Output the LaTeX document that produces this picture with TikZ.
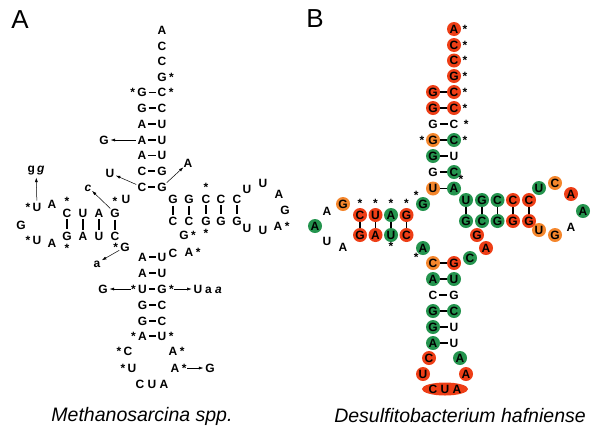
\documentclass[tikz,border=0pt]{standalone}
\usepackage{fontspec}
\setmainfont{Liberation Sans}
\usetikzlibrary{arrows.meta,positioning,shapes.geometric}
\definecolor{rnred}{RGB}{238,62,22}
\definecolor{rnorange}{RGB}{244,134,44}
\definecolor{rngreen}{RGB}{36,148,78}
\newcommand{\rnfont}{\fontsize{12}{14}\selectfont\bfseries}
\tikzset{
  rnbase/.style={circle, inner sep=0pt, minimum size=10pt, font=\rnfont, text height=8.6pt, text depth=0pt},
  rnred/.style={rnbase, fill=rnred, minimum size=14pt},
  rnorange/.style={rnbase, fill=rnorange, minimum size=14pt},
  rngreen/.style={rnbase, fill=rngreen, minimum size=14pt},
  rnstar/.style={font=\rnfont, inner sep=0.3pt, text height=8.6pt, text depth=0pt},
  rnstarv/.style={font=\rnfont, inner sep=0.3pt, text height=8.6pt, text depth=-4.6pt},
  rnbond/.style={line width=1.1pt},
  rnarrow/.style={-{Latex[length=4.5pt,width=3pt]}, line width=0.5pt},
  rnpanel/.style={font=\fontsize{26}{28}\selectfont},
  rncaption/.style={font=\fontsize{19.5}{21}\selectfont\itshape}
}

\begin{document}
\begin{tikzpicture}[x=1pt,y=-1pt]
  \useasboundingbox (0,0) rectangle (601,437);

  \node[rnpanel] (labA) at (20,20) {A};
  \node[rnpanel] (labB) at (315,19) {B};

  % ---- A: Methanosarcina ----
  % acceptor stem
  \node[rnbase] (mA1) at (162,30) {A};
  \node[rnbase] (mA2) at (162,46) {C};
  \node[rnbase] (mA3) at (162,61) {C};
  \node[rnbase, label={[rnstar]right:*}] (mA4) at (162,77) {G};
  \node[rnbase, label={[rnstar]left:*}] (mA5l) at (142,92.5) {G};
  \node[rnbase, label={[rnstar]right:*}] (mA5r) at (162,92.5) {C};
  \node[rnbase] (mA6l) at (142,108) {G};
  \node[rnbase] (mA6r) at (162,108) {C};
  \node[rnbase] (mA7l) at (142,124) {A};
  \node[rnbase] (mA7r) at (162,124) {U};
  \node[rnbase] (mA8l) at (142,140) {A};
  \node[rnbase] (mA8r) at (162,140) {U};
  \node[rnbase] (mA9l) at (142,155.5) {A};
  \node[rnbase] (mA9r) at (162,155.5) {U};
  \node[rnbase] (mA10l) at (142,171) {C};
  \node[rnbase] (mA10r) at (162,171) {G};
  \node[rnbase] (mA11l) at (142,187) {C};
  \node[rnbase] (mA11r) at (162,187) {G};
  \foreach \i in {5,...,11}
    \draw[rnbond] (mA\i l) -- (mA\i r);
  \node[rnbase] (mG8) at (104,140) {G};
  \node[rnbase] (mU10) at (110,173) {U};
  \node[rnbase] (mA10x) at (188,163) {A};
  \draw[rnarrow] (mA8l) -- (mG8);
  \draw[rnarrow] (mA11l) -- (mU10);
  \draw[rnarrow] (mA11r) -- (mA10x);

  % D arm
  \node[rnbase, label={[rnstarv,label distance=0.5pt]above:*}] (mD1t) at (67,213) {C};
  \node[rnbase] (mD2t) at (83,213) {U};
  \node[rnbase] (mD3t) at (99,213) {A};
  \node[rnbase, label={[rnstarv,label distance=0.5pt]above:*}] (mD4t) at (115,213) {G};
  \node[rnbase, label={[rnstarv,label distance=1pt]below:*}] (mD1b) at (67,236) {G};
  \node[rnbase] (mD2b) at (83,236) {A};
  \node[rnbase] (mD3b) at (99,236) {U};
  \node[rnbase] (mD4b) at (115,236) {C};
  \foreach \i in {1,...,4}
    \draw[rnbond] (mD\i t) -- (mD\i b);
  \node[rnbase, label={[rnstar]left:*}] (mE1) at (37,207) {U};
  \node[rnbase] (mE2) at (52,204) {A};
  \node[rnbase] (mE3) at (21,225) {G};
  \node[rnbase, label={[rnstar]left:*}] (mE4) at (37,240) {U};
  \node[rnbase] (mE5) at (52,243) {A};
  \node[rnbase] (mgg) at (36,168) {g\,\textit{g}};
  \draw[rnarrow] (mE1) -- (mgg);
  \node[rnbase] (mU11) at (126,199) {U};
  \node[rnbase] (mc) at (88,187) {\textit{c}};
  \draw[rnarrow] (mD4t) -- (mc);
  \node[rnbase, label={[rnstar]left:*}] (mG12) at (125,247) {G};
  \node[rnbase] (ma) at (97,263) {a};
  \draw[rnarrow] (mG12) -- (ma);

  % T arm
  \node[rnbase] (mT1t) at (173,199) {G};
  \node[rnbase] (mT2t) at (189,199) {G};
  \node[rnbase, label={[rnstarv,label distance=0.5pt]above:*}] (mT3t) at (206,199) {C};
  \node[rnbase] (mT4t) at (221,199) {C};
  \node[rnbase] (mT5t) at (237,199) {C};
  \node[rnbase] (mT1b) at (173,221) {C};
  \node[rnbase] (mT2b) at (189,221) {C};
  \node[rnbase, label={[rnstarv,label distance=1pt]below:*}] (mT3b) at (206,221) {G};
  \node[rnbase] (mT4b) at (221,221) {G};
  \node[rnbase] (mT5b) at (237,221) {G};
  \foreach \i in {1,...,5}
    \draw[rnbond] (mT\i t) -- (mT\i b);
  \node[rnbase] (mL1) at (247,189) {U};
  \node[rnbase] (mL2) at (263,183) {U};
  \node[rnbase] (mL3) at (279,194) {A};
  \node[rnbase] (mL4) at (285,210) {G};
  \node[rnbase, label={[rnstar]right:*}] (mL5) at (278,226) {A};
  \node[rnbase] (mL6) at (263,230) {U};
  \node[rnbase] (mL7) at (247,228) {U};
  \node[rnbase, label={[rnstar]right:*}] (mV1) at (184,235) {G};
  \node[rnbase] (mV2) at (173,253) {C};
  \node[rnbase, label={[rnstar]right:*}] (mV3) at (189,252) {A};

  % anticodon arm
  \node[rnbase] (mC1l) at (142.5,257) {A};
  \node[rnbase] (mC1r) at (162,257) {U};
  \node[rnbase] (mC2l) at (142.5,273) {A};
  \node[rnbase] (mC2r) at (162,273) {U};
  \node[rnbase, label={[rnstar,name=mS3l]left:*}] (mC3l) at (142.5,289) {U};
  \node[rnbase, label={[rnstar,name=mS3r]right:*}] (mC3r) at (162,289) {G};
  \node[rnbase] (mC4l) at (142.5,305) {G};
  \node[rnbase] (mC4r) at (162,305) {C};
  \node[rnbase] (mC5l) at (142.5,321) {G};
  \node[rnbase] (mC5r) at (162,321) {C};
  \node[rnbase, label={[rnstar]left:*}] (mC6l) at (142.5,336) {A};
  \node[rnbase, label={[rnstar]right:*}] (mC6r) at (162,336) {U};
  \foreach \i in {1,...,6}
    \draw[rnbond] (mC\i l) -- (mC\i r);
  \node[rnbase, label={[rnstar]left:*}] (mK1) at (128,351) {C};
  \node[rnbase, label={[rnstar]right:*}] (mK2) at (173,351) {A};
  \node[rnbase, label={[rnstar]left:*}] (mK3) at (132,368) {U};
  \node[rnbase, label={[rnstar,name=mS4]right:*}] (mK4) at (175,368) {A};
  \node[rnbase] (mK5) at (152,384) {C U A};
  \node[rnbase] (mX1) at (103,289) {G};
  \node[rnbase] (mX2) at (198,289) {U};
  \node[rnbase, anchor=west] (mX3) at (204,289) {a \textit{a}};
  \node[rnbase] (mX4) at (210,368) {G};
  \draw[rnarrow] (mS3l) -- (mX1);
  \draw[rnarrow] (mS3r) -- (mX2);
  \draw[rnarrow] (mS4) -- (mX4);

  \node[rncaption] (capA) at (142,416) {Methanosarcina spp.};

  % ---- B: Desulfitobacterium ----
  % acceptor stem
  \node[rnred, label={[rnstar,label distance=1pt]right:*}] (dA1) at (454,29) {A};
  \node[rnred, label={[rnstar,label distance=1pt]right:*}] (dA2) at (454,45) {C};
  \node[rnred, label={[rnstar,label distance=1pt]right:*}] (dA3) at (454,60.5) {C};
  \node[rnred, label={[rnstar,label distance=1pt]right:*}] (dA4) at (454,76) {G};
  \node[rnred] (dA5l) at (433,92) {G};
  \node[rnred, label={[rnstar,label distance=1pt]right:*}] (dA5r) at (454,92) {C};
  \node[rnred] (dA6l) at (433,108) {G};
  \node[rnred, label={[rnstar,label distance=1pt]right:*}] (dA6r) at (454,108) {C};
  \node[rnbase] (dA7l) at (433,124) {G};
  \node[rnbase, label={[rnstar,label distance=3pt]right:*}] (dA7r) at (454,124) {C};
  \node[rnorange, label={[rnstar,label distance=1pt]left:*}] (dA8l) at (433,140) {G};
  \node[rngreen, label={[rnstar,label distance=1pt]right:*}] (dA8r) at (454,140) {C};
  \node[rngreen] (dA9l) at (433,156) {G};
  \node[rnbase] (dA9r) at (454,156) {U};
  \node[rnbase] (dA10l) at (433,172) {G};
  \node[rngreen] (dA10r) at (454,172) {C};
  \node[rnorange] (dA11l) at (433,188.5) {U};
  \node[rngreen, label={[rnstarv,label distance=-1.5pt]above right:*}] (dA11r) at (454,188.5) {A};
  \foreach \i in {5,...,11}
    \draw[rnbond] (dA\i l) -- (dA\i r);

  % D arm
  \node[rnred, label={[rnstarv,label distance=0pt]above:*}] (dD1t) at (360,215) {C};
  \node[rnred, label={[rnstarv,label distance=0pt]above:*}] (dD2t) at (375.5,215) {U};
  \node[rngreen, label={[rnstarv,label distance=0pt]above:*}] (dD3t) at (391,215) {A};
  \node[rnred, label={[rnstarv,label distance=0pt]above:*}] (dD4t) at (406.5,215) {G};
  \node[rnred] (dD1b) at (360,235) {G};
  \node[rnred] (dD2b) at (375.5,235) {A};
  \node[rngreen, label={[rnstarv,label distance=-1pt]below:*}] (dD3b) at (391,235) {U};
  \node[rnred] (dD4b) at (406.5,235) {C};
  \foreach \i in {1,...,4}
    \draw[rnbond] (dD\i t) -- (dD\i b);
  \node[rnorange] (dE1) at (343,204) {G};
  \node[rnbase] (dE2) at (327,211) {A};
  \node[rngreen] (dE3) at (315,226) {A};
  \node[rnbase] (dE4) at (327,241) {U};
  \node[rnbase] (dE5) at (343,247) {A};
  \node[rngreen, label={[rnstarv,label distance=-1.5pt]above left:*}] (dG1) at (423,204) {G};
  \node[rngreen, label={[rnstarv,label distance=-1.5pt]below left:*}] (dA2x) at (423,248) {A};

  % T arm
  \node[rngreen] (dT1t) at (466,200) {U};
  \node[rngreen] (dT2t) at (482,200) {G};
  \node[rngreen] (dT3t) at (497.5,200) {C};
  \node[rnred] (dT4t) at (513,200) {C};
  \node[rnred] (dT5t) at (529,200) {C};
  \node[rngreen] (dT1b) at (466,221) {G};
  \node[rngreen] (dT2b) at (482,221) {C};
  \node[rngreen] (dT3b) at (497.5,221) {G};
  \node[rnred] (dT4b) at (513,221) {G};
  \node[rnred] (dT5b) at (529,221) {G};
  \foreach \i in {1,...,5}
    \draw[rnbond] (dT\i t) -- (dT\i b);
  \node[rngreen] (dL1) at (539,188) {U};
  \node[rnorange] (dL2) at (555,183) {C};
  \node[rnred] (dL3) at (571,194) {A};
  \node[rngreen] (dL4) at (583,211) {A};
  \node[rnbase] (dL5) at (571,227) {A};
  \node[rnorange] (dL6) at (555,235) {G};
  \node[rnorange] (dL7) at (539,230) {U};
  \node[rnred] (dV1) at (477,235) {G};
  \node[rnred] (dV2) at (486,248) {A};
  \node[rngreen] (dV3) at (470,258) {C};

  % anticodon arm
  \node[rnorange] (dC1l) at (433,263) {C};
  \node[rnred] (dC1r) at (454,263) {G};
  \node[rngreen] (dC2l) at (433,279) {A};
  \node[rngreen] (dC2r) at (454,279) {U};
  \node[rnbase] (dC3l) at (433,295) {C};
  \node[rnbase] (dC3r) at (454,295) {G};
  \node[rngreen] (dC4l) at (433,311) {G};
  \node[rngreen] (dC4r) at (454,311) {C};
  \node[rngreen] (dC5l) at (433,327) {G};
  \node[rnbase] (dC5r) at (454,327) {U};
  \node[rngreen] (dC6l) at (433,343) {A};
  \node[rnbase] (dC6r) at (454,343) {U};
  \foreach \i in {1,...,6}
    \draw[rnbond] (dC\i l) -- (dC\i r);
  \node[rnred] (dK1) at (429,358) {C};
  \node[rngreen] (dK2) at (460,358) {A};
  \node[rnred] (dK3) at (423,374) {U};
  \node[rnred] (dK4) at (466,374) {A};
  \node[rnbase, ellipse, fill=rnred, minimum width=43pt, minimum height=13pt] (dK5) at (445,389) {C U A};

  \node[rncaption] (capB) at (460,416) {Desulfitobacterium hafniense};
\end{tikzpicture}
\end{document}
